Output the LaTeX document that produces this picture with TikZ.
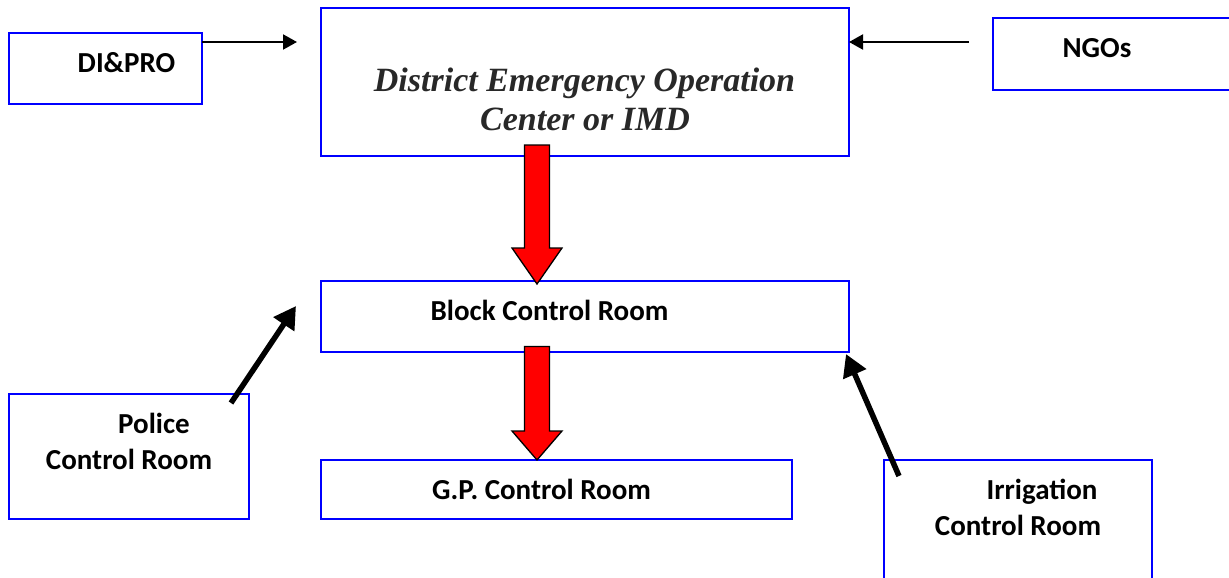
\documentclass[tikz,border=0pt]{standalone}
\usepackage{fontspec}
\setmainfont{Carlito}
\newfontfamily\deocfont{Liberation Serif}
\usetikzlibrary{arrows.meta,calc}
\definecolor{boxblue}{RGB}{0,0,255}
\definecolor{deocgray}{RGB}{40,40,40}
\newcommand{\RedDownArrow}[3]{%
  \filldraw[fatarrow] let \p1=(#1), \p2=(#2) in
    ({\x1-12.5pt},\y1) -- ({\x1+12.5pt},\y1) -- ({\x1+12.5pt},{\y2+#3pt}) --
    ({\x1+25pt},{\y2+#3pt}) -- (\x2,\y2) -- ({\x1-25pt},{\y2+#3pt}) --
    ({\x1-12.5pt},{\y2+#3pt}) -- cycle;}
\begin{document}
\begin{tikzpicture}[x=1pt,y=-1pt,
  box/.style={draw=boxblue, line width=1.5pt, rectangle, inner sep=0pt, outer sep=0pt},
  lbl/.style={font=\fontsize{29}{36}\selectfont\bfseries, anchor=base, inner sep=0pt},
  deoclbl/.style={font=\deocfont\fontsize{34}{38}\selectfont\bfseries\itshape, text=deocgray, anchor=base, inner sep=0pt},
  thinarrow/.style={line width=2pt, -{Triangle[length=14pt,width=15pt]}},
  thickarrow/.style={line width=5.5pt, -{Triangle[length=22pt,width=24pt]}},
  fatarrow/.style={fill=red, draw=black, line width=1.3pt, line join=miter},
]
\useasboundingbox (0,0) rectangle (1229,578);
\clip (0,0) rectangle (1229,578);

% boxes
\node[box, minimum width=193, minimum height=71]  (dipro)  at (105.5,68.5) {};
\node[box, minimum width=528, minimum height=148] (deoc)   at (585,82) {};
\node[box, minimum width=247, minimum height=72]  (ngos)   at (1116.5,54) {};
\node[box, minimum width=528, minimum height=71]  (block)  at (585,316.5) {};
\node[box, minimum width=471, minimum height=59]  (gp)     at (556.5,489.5) {};
\node[box, minimum width=240, minimum height=125] (police) at (129,456.5) {};
\node[box, minimum width=268, minimum height=140] (irr)    at (1018,530) {};

% texts
\node[lbl] (tdipro) at (126.5,73) {DI\&PRO};
\node[lbl] (tngos) at (1097,58) {NGOs};
\node[deoclbl] (tdeoc1) at (584.5,92) {District Emergency Operation};
\node[deoclbl] (tdeoc2) at (585,130) {Center or IMD};
\node[lbl] (tblock) at (549.5,320) {Block Control Room};
\node[lbl] (tgp) at (541.5,499) {G.P. Control Room};
\node[lbl] (tpol1) at (154,433) {Police};
\node[lbl] (tpol2) at (129,469) {Control Room};
\node[lbl] (tirr1) at (1042,499) {Irrigation};
\node[lbl] (tirr2) at (1018,535) {Control Room};

% thin arrows
\coordinate (a1s) at ($(dipro.north east)+(0,9)$);
\coordinate (a1e) at ($(deoc.north west)+(-24,34)$);
\draw[thinarrow] (a1s) -- (a1e);
\coordinate (a2s) at ($(ngos.north west)+(-24,24)$);
\coordinate (a2e) at ($(deoc.north east)+(0,34)$);
\draw[thinarrow] (a2s) -- (a2e);

% thick arrows
\coordinate (a3s) at ($(police.north east)+(-18,9)$);
\coordinate (a3e) at ($(block.west)+(-25,-10.5)$);
\draw[thickarrow] (a3s) -- (a3e);
\coordinate (a4s) at ($(irr.north west)+(15,16)$);
\coordinate (a4e) at ($(block.south east)+(-3,2)$);
\draw[thickarrow] (a4s) -- (a4e);

% red arrows
\coordinate (r1s) at ($(deoc.south)+(-48,-11)$);
\coordinate (r1e) at ($(block.north)+(-48,3)$);
\RedDownArrow{r1s}{r1e}{36}
\coordinate (r2s) at ($(block.south)+(-48,-5.5)$);
\coordinate (r2e) at ($(gp.north)+(-19.5,0)$);
\RedDownArrow{r2s}{r2e}{29}
\end{tikzpicture}
\end{document}
